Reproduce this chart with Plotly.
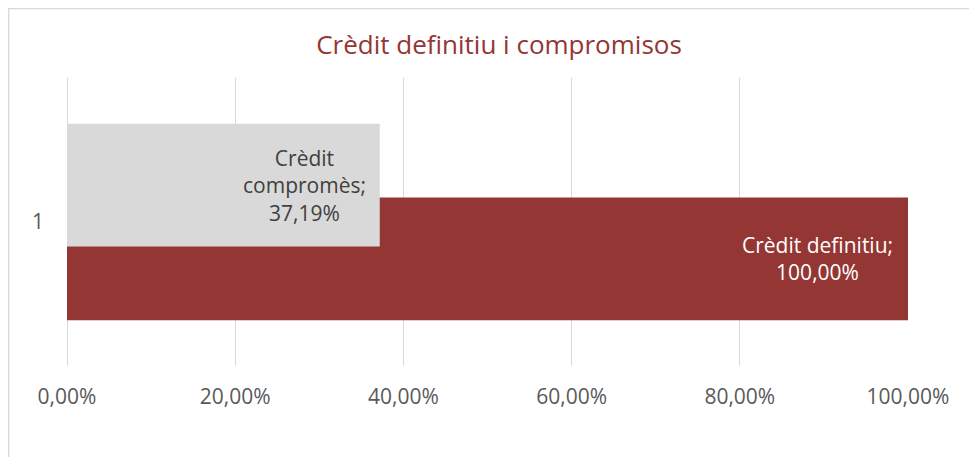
import plotly.graph_objects as go

categories = ["1"]
series_names = ["Crèdit definitiu", "Crèdit compromès"]
definitiu = [100.00]
compromes = [37.19]
x_ticks = [0, 20, 40, 60, 80, 100]
x_tick_labels = ["0,00%", "20,00%", "40,00%", "60,00%", "80,00%", "100,00%"]

RED = "#943634"
GRAY = "#d9d9d9"
FONT = "Open Sans"

fig = go.Figure()
fig.add_trace(go.Bar(
    y=[0], x=definitiu, orientation="h", name=series_names[0],
    marker=dict(color=RED, line=dict(width=0)),
    width=0.426, offset=-0.341, hoverinfo="skip",
))
fig.add_trace(go.Bar(
    y=[0], x=compromes, orientation="h", name=series_names[1],
    marker=dict(color=GRAY, line=dict(width=0)),
    width=0.426, offset=-0.085, hoverinfo="skip",
))

def fmt(v):
    return f"{v:.2f}".replace(".", ",") + "%"

fig.add_annotation(x=compromes[0], y=0.128, xref="x", yref="y",
                   text="Crèdit<br>compromès;<br>" + fmt(compromes[0]),
                   showarrow=False, xanchor="right", yanchor="middle", xshift=-12,
                   align="center", font=dict(family=FONT, size=21, color="#404040"))
fig.add_annotation(x=definitiu[0], y=-0.128, xref="x", yref="y",
                   text=series_names[0] + ";<br>" + fmt(definitiu[0]),
                   showarrow=False, xanchor="right", yanchor="middle", xshift=-13,
                   align="center", font=dict(family=FONT, size=21, color="white"))

# page offset from body margin
O = 8
W, H = 977, 457
# target plot area in page pixels
PX0, PX1, PY0, PY1 = 67, 908, 78, 366
L = PX0 - O
R = W - (PX1 - O)
T = PY0 - O
B = H - (PY1 - O)
pw, ph = W - L - R, H - T - B

def px(xpage):
    return (xpage - O - L) / pw

def py(ypage):
    return (H - B - (ypage - O)) / ph

fig.add_shape(type="rect", xref="paper", yref="paper",
              x0=px(O + 0.7), x1=px(O + W + 10),
              y0=py(O + H + 10), y1=py(O + 0.7),
              line=dict(color=GRAY, width=1.3), fillcolor="rgba(0,0,0,0)", layer="below")

fig.update_layout(
    width=W, height=H,
    margin=dict(l=L, r=R, t=T, b=B, pad=0),
    barmode="overlay",
    showlegend=False,
    plot_bgcolor="white", paper_bgcolor="white",
    title=dict(text="Crèdit definitiu i compromisos", x=(499 - O) / W, xanchor="center",
               y=1 - (45 - O) / H, yanchor="middle",
               font=dict(family=FONT, size=26, color=RED)),
    xaxis=dict(range=[0, 100], tickvals=x_ticks, ticktext=x_tick_labels,
               showgrid=True, gridcolor=GRAY, gridwidth=1.3,
               zeroline=True, zerolinecolor=GRAY, zerolinewidth=1.3,
               showline=False, ticks="", ticklabelstandoff=16,
               tickfont=dict(family=FONT, size=21, color="#595959"), fixedrange=True),
    yaxis=dict(range=[-0.5, 0.5], tickvals=[0], ticktext=categories,
               showgrid=False, zeroline=False, showline=False, ticks="",
               ticklabelstandoff=22,
               tickfont=dict(family=FONT, size=21, color="#595959"), fixedrange=True),
)

fig.write_html("out.html")
